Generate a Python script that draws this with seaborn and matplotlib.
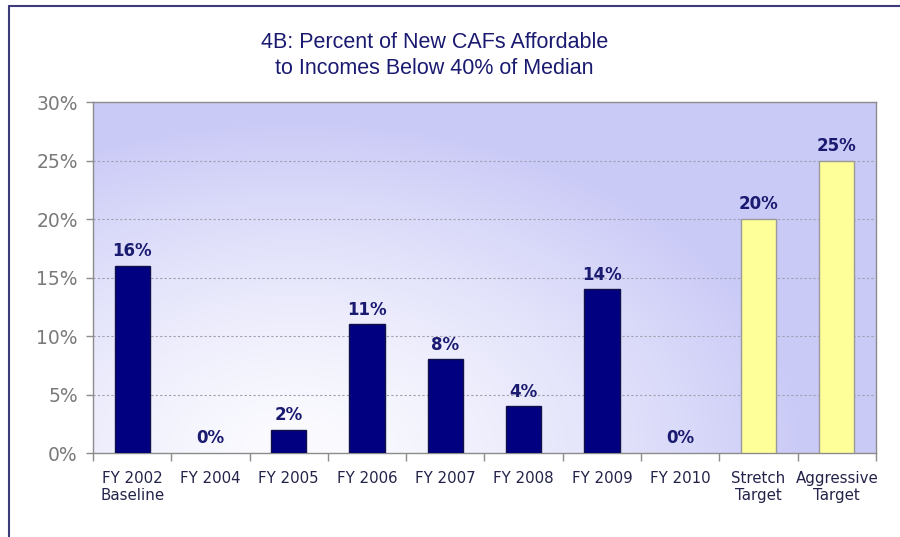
import numpy as np
import pandas as pd
import matplotlib
matplotlib.use("Agg")
import matplotlib.pyplot as plt
from matplotlib.colors import LinearSegmentedColormap
from matplotlib.ticker import FixedLocator, FuncFormatter
import seaborn as sns

# Chart data
categories = ["FY 2002\nBaseline", "FY 2004", "FY 2005", "FY 2006", "FY 2007",
              "FY 2008", "FY 2009", "FY 2010", "Stretch\nTarget", "Aggressive\nTarget"]
values = [16, 0, 2, 11, 8, 4, 14, 0, 20, 25]
kinds = ["actual"] * 8 + ["target"] * 2
y_ticks = [0, 5, 10, 15, 20, 25, 30]
title_lines = ["4B: Percent of New CAFs Affordable", "to Incomes Below 40% of Median"]

NAVY = "#000080"
TARGET_YELLOW = "#FFFF99"
LAVENDER = "#CACAF7"
TEXT_NAVY = "#1A1A70"

sns.set_theme(style="white")
plt.rcParams["font.family"] = ["DejaVu Sans"]

df = pd.DataFrame({"category": categories, "value": values, "kind": kinds})

fig = plt.figure(figsize=(9.0, 5.37), dpi=100)
fig.patch.set_facecolor("white")
ax = fig.add_axes([0.1033, 0.1564, 0.870, 0.6536])

# Soft elliptical background shading, pale in the lower left, lavender elsewhere
nx, ny = 400, 300
gx = np.linspace(0, 1, nx)
gy = np.linspace(0, 1, ny)
X, Y = np.meshgrid(gx, gy)
w_px, h_px = 783.0, 351.0
dx = (X - 0.26) * w_px / 510.0
dy = Y * h_px / 335.0
t = np.clip(np.sqrt(dx ** 2 + dy ** 2), 0, 1)
t = t ** 1.4
shade = LinearSegmentedColormap.from_list("shade", ["#FBFBFF", LAVENDER])
ax.imshow(t, cmap=shade, origin="lower", extent=[-0.5, 9.5, 0, 30],
          aspect="auto", zorder=0, interpolation="bilinear")

palette = {"actual": NAVY, "target": TARGET_YELLOW}
sns.barplot(data=df, x="category", y="value", hue="kind", palette=palette,
            dodge=False, width=0.45, legend=False, ax=ax, zorder=3,
            saturation=1.0)

for patch in ax.patches:
    fc = patch.get_facecolor()
    is_target = fc[0] > 0.8
    patch.set_edgecolor("#9A9A9A" if is_target else "#10104A")
    patch.set_linewidth(1.0 if patch.get_height() > 0 else 0.0)

# Value labels taken from the data
for i, v in enumerate(values):
    ax.annotate(f"{v}%", xy=(i, v), xytext=(0, 4), textcoords="offset points",
                ha="center", va="bottom", fontsize=12, color=TEXT_NAVY,
                fontweight="bold", zorder=5)

ax.set_xlim(-0.5, 9.5)
ax.set_ylim(0, 30)
ax.yaxis.set_major_locator(FixedLocator(y_ticks))
ax.yaxis.set_major_formatter(FuncFormatter(lambda v, p: f"{int(v)}%"))
ax.set_xlabel("")
ax.set_ylabel("")

# Dashed horizontal gridlines
for yv in y_ticks[1:-1]:
    ax.axhline(yv, color="#A0A0B0", lw=0.8, ls=(0, (2, 2)), zorder=1)

for side in ["left", "bottom", "top", "right"]:
    ax.spines[side].set_visible(True)
    ax.spines[side].set_color("#8C8C8C")
    ax.spines[side].set_linewidth(1.0)

# Category ticks sit between the bars
ax.set_xticks(np.arange(-0.5, 10.0, 1.0), minor=False)
ax.set_xticklabels([])
ax.set_xticks(np.arange(10), minor=True)
ax.set_xticklabels(categories, minor=True, fontsize=10.8, color="#23234A",
                   linespacing=1.2)
ax.tick_params(axis="x", which="major", direction="out", length=6,
               width=1.0, color="#8C8C8C", bottom=True)
ax.tick_params(axis="x", which="minor", length=0, pad=13)
ax.tick_params(axis="y", direction="out", length=5, width=1.0,
               color="#8C8C8C", left=True, pad=6, labelsize=13.5,
               labelcolor="#7A7A7A")

for lbl in ax.get_xticklabels(minor=True):
    lbl.set_va("top")

fig.text(0.483, 0.921, title_lines[0], ha="center", va="center",
         fontsize=15.5, color=TEXT_NAVY, family=["Liberation Sans"])
fig.text(0.483, 0.873, title_lines[1], ha="center", va="center",
         fontsize=15.5, color=TEXT_NAVY, family=["Liberation Sans"])

# Outer frame on the left and top edges
frame_color = "#3C3C7C"
fig.add_artist(plt.Line2D([8.5 / 900, 8.5 / 900], [0, 1 - 5.5 / 537],
                          transform=fig.transFigure, color=frame_color, lw=1.5))
fig.add_artist(plt.Line2D([8.5 / 900, 1.0], [1 - 5.5 / 537, 1 - 5.5 / 537],
                          transform=fig.transFigure, color=frame_color, lw=1.5))

fig.savefig("out.png", dpi=100, facecolor="white")
